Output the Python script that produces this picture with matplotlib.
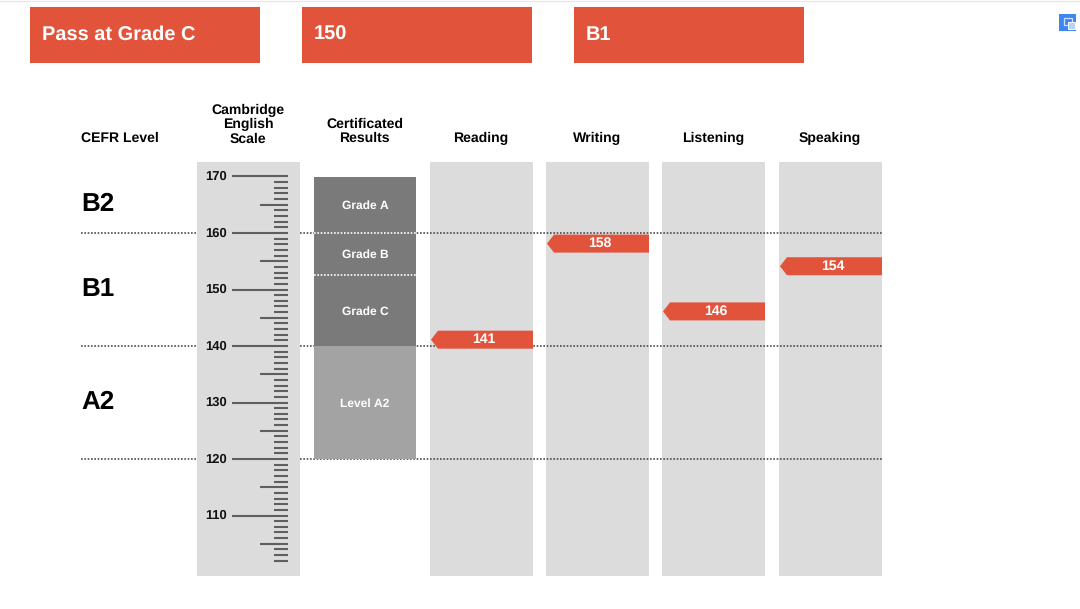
import numpy as np
import matplotlib.pyplot as plt
from matplotlib.patches import Rectangle

plt.rcParams['font.family'] = ['Liberation Sans', 'DejaVu Sans']
plt.rcParams['text.hinting'] = 'no_hinting'
plt.rcParams['text.hinting_factor'] = 1

# ---------- data ----------
banner_labels = ["Pass at Grade C", "150", "B1"]
skills = ["Reading", "Writing", "Listening", "Speaking"]
skill_scores = [141, 158, 146, 154]
cefr_levels = ["B2", "B1", "A2"]
cefr_label_scores = [165, 150, 130]
cefr_bounds = [160, 140, 120]
grade_labels = ["Grade A", "Grade B", "Grade C", "Level A2"]
grade_tops = [170, 160, 152.5, 140]
grade_bottoms = [160, 152.5, 140, 120]
scale_labels = [170, 160, 150, 140, 130, 120, 110]
scale_min = 102
scale_max = 170

# ---------- colours ----------
RED = '#e2533c'
BAND = '#dcdcdc'
DARK = '#7a7a7a'
LIGHT = '#a3a3a3'
TICK = '#5f5f5f'
DOT = '#4d4d4d'

# ---------- figure: x in pixels, y in score units ----------
PX = 5.65  # pixels per score point
fig = plt.figure(figsize=(10.8, 6.09), dpi=100)
ax = fig.add_axes([0, 0, 1, 1])
ax.set_xlim(0, 1080)
ax.set_ylim(120 - 150 / PX, 120 + 459 / PX)
ax.axis('off')


def py(p):
    # pixel row (from top) to score units
    return 120 + (459 - p) / PX


# thin line along the top of the page
ax.plot([0, 1080], [py(0.5), py(0.5)], color='#e6e6e6', lw=0.8)

# ---------- banners ----------
for x0, label in zip([30, 302, 574], banner_labels):
    ax.add_patch(Rectangle((x0, py(63)), 230, 56 / PX, color=RED, lw=0))
    ax.text(x0 + 12, py(40), label, color='white', fontsize=14.3,
            fontweight='bold', ha='left', va='baseline')

# ---------- grey columns ----------
band_top = py(162)
band_bot = py(576)
scale_x0, scale_w = 197, 102.5
ax.add_patch(Rectangle((scale_x0, band_bot), scale_w, band_top - band_bot, color=BAND, lw=0))
skill_x0 = [430, 546, 662, 779]
for x0 in skill_x0:
    ax.add_patch(Rectangle((x0, band_bot), 103, band_top - band_bot, color=BAND, lw=0))

# ---------- dotted CEFR lines ----------
for s in cefr_bounds:
    ax.plot([81, 196], [s, s], color=DOT, lw=1.2, ls=(0, (1, 1)), zorder=2)
    ax.plot([300, 882], [s, s], color=DOT, lw=1.2, ls=(0, (1, 1)), zorder=2)

# ---------- certificated results ----------
grade_x0, grade_w = 314, 102
for label, top, bot in zip(grade_labels, grade_tops, grade_bottoms):
    col = LIGHT if label.startswith("Level") else DARK
    ax.add_patch(Rectangle((grade_x0, bot), grade_w, top - bot, color=col, lw=0, zorder=3))
    ax.text(grade_x0 + grade_w / 2, (top + bot) / 2 - 0.15, label, color='white', fontsize=8.6,
            fontweight='bold', ha='center', va='center', zorder=5)
for s in [grade_bottoms[0], grade_bottoms[1]]:
    ax.plot([grade_x0, grade_x0 + grade_w], [s, s], color='white', lw=1.2,
            ls=(0, (1, 1)), zorder=4)

# ---------- scale ticks ----------
for s in np.arange(scale_min, scale_max + 1):
    if s % 10 == 0:
        x_left = 232
    elif s % 5 == 0:
        x_left = 260
    else:
        x_left = 274
    ax.plot([x_left, 288], [s, s], color=TICK, lw=1.5, solid_capstyle='butt', zorder=3)
for s in scale_labels:
    ax.text(226.5, s - 0.05, str(s), fontsize=9, fontweight='bold', ha='right', va='center',
            color='#111111')

# ---------- score arrows ----------
half = 9 / PX
shift = 0.12
for x0, score in zip(skill_x0, skill_scores):
    x1 = x0 + 103
    yc = score + shift
    ax.fill([x0 + 1, x0 + 8, x1, x1, x0 + 8],
            [yc, yc + half, yc + half, yc - half, yc - half],
            color=RED, lw=0, zorder=6)
    ax.text(x0 + 53.5, yc, str(score), color='white', fontsize=10, fontweight='bold',
            ha='center', va='center', zorder=7)

# ---------- headers ----------
HEAD = 10
ax.text(81, py(138), "CEFR Level", fontsize=HEAD, fontweight='bold', ha='left', va='center')
ax.text(248, py(124.5), "Cambridge\nEnglish\nScale", fontsize=HEAD, fontweight='bold',
        ha='center', va='center', linespacing=1.12)
ax.text(364.5, py(131.5), "Certificated\nResults", fontsize=HEAD, fontweight='bold',
        ha='center', va='center', linespacing=1.12)
for x0, name in zip(skill_x0, skills):
    ax.text(x0 + 51, py(138), name, fontsize=HEAD, fontweight='bold', ha='center', va='center')

for name, s in zip(cefr_levels, cefr_label_scores):
    ax.text(81, s, name, fontsize=19, fontweight='bold', ha='left', va='center')

# ---------- small icon, top right ----------
ax.add_patch(Rectangle((1059, py(31)), 17, 17 / PX, color='#3f86f0', lw=0))
ax.add_patch(Rectangle((1064, py(25)), 8, 7 / PX, fc='none', ec='#cfe0fb', lw=0.9))
ax.add_patch(Rectangle((1068, py(29)), 7, 7 / PX, fc='#b8d2fa', ec='white', lw=0.7))

fig.savefig("out.png", dpi=100)
